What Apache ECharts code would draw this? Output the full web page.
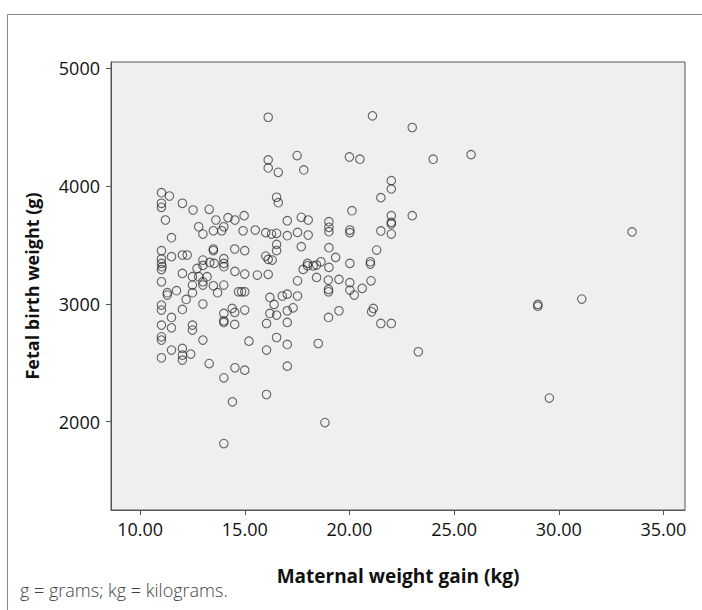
<!DOCTYPE html>
<html>
<head>
<meta charset="utf-8">
<script src="https://cdn.jsdelivr.net/npm/echarts@6/dist/echarts.min.js"></script>
<style>
html,body{margin:0;padding:0;background:#fff;}
#chart{width:702px;height:610px;}
</style>
</head>
<body>
<div id="chart"></div>
<script>
// Maternal weight gain (kg)
const gainKg = [
11.02,11.40,11.02,11.02,12.02,12.53,13.30,11.21,13.62,14.20,
14.53,14.97,12.80,13.00,13.50,13.90,14.00,14.92,11.50,13.50,
13.50,14.52,15.00,11.02,11.50,12.02,12.25,11.02,11.02,11.05,
11.02,13.00,13.33,13.54,14.00,14.00,14.00,14.53,12.02,12.72,
13.00,15.00,12.50,12.80,13.20,11.02,12.50,13.00,13.00,13.50,
14.00,11.30,11.30,11.74,12.50,13.70,14.70,14.85,15.00,12.20,
11.02,11.02,12.02,13.00,14.00,14.40,14.52,15.00,11.50,11.02,
11.50,12.50,12.50,14.00,14.00,14.52,11.02,11.02,13.00,15.20,
11.50,12.02,12.02,12.02,12.42,11.02,13.30,14.53,15.00,14.00,
14.41,14.00,16.12,16.12,16.12,17.50,17.82,16.60,20.00,20.50,
16.52,16.60,20.12,17.03,17.70,18.03,19.02,19.02,19.02,20.02,
20.02,15.50,16.00,16.28,16.52,17.03,17.52,18.03,16.52,16.52,
17.70,19.02,16.00,16.12,16.31,19.34,20.02,18.00,18.00,18.27,
18.43,18.64,17.79,19.02,15.60,16.12,17.52,18.43,18.99,19.50,
20.02,20.02,20.23,20.61,19.00,19.00,16.20,16.40,16.79,17.03,
17.52,16.20,16.52,17.03,17.31,19.00,19.50,16.04,17.03,16.52,
17.03,16.04,18.51,17.03,16.04,18.83,21.10,23.00,24.00,25.81,
22.00,22.00,21.50,22.00,22.00,22.00,22.00,23.00,21.50,21.30,
21.00,21.00,21.03,21.14,21.06,21.50,22.00,23.29,29.00,29.00,
29.55,31.10,33.50
];
// Fetal birth weight (g)
const birthG = [
3943,3915,3853,3819,3853,3796,3802,3711,3711,3731,
3711,3748,3654,3592,3620,3620,3654,3620,3561,3465,
3452,3465,3451,3451,3400,3414,3414,3380,3343,3315,
3290,3371,3351,3343,3383,3343,3315,3275,3258,3300,
3326,3252,3230,3230,3230,3187,3159,3159,3187,3153,
3159,3094,3074,3111,3094,3094,3102,3102,3102,3037,
2989,2947,2952,2998,2918,2961,2927,2947,2884,2819,
2796,2819,2777,2856,2842,2825,2720,2692,2692,2683,
2607,2621,2564,2522,2573,2542,2493,2457,2437,2372,
2168,1814,4583,4221,4153,4258,4136,4116,4246,4227,
3904,3858,3790,3705,3734,3711,3697,3649,3612,3626,
3604,3626,3604,3592,3598,3578,3606,3584,3504,3451,
3485,3476,3405,3377,3371,3394,3343,3343,3323,3323,
3329,3357,3292,3309,3244,3250,3195,3224,3201,3207,
3179,3116,3074,3131,3122,3102,3054,2995,3066,3082,
3066,2918,2904,2941,2966,2884,2941,2833,2842,2714,
2655,2607,2663,2471,2230,1992,4595,4496,4227,4266,
4045,3975,3901,3748,3691,3677,3592,3748,3618,3456,
3357,3337,3195,2961,2932,2833,2833,2593,2995,2980,
2200,3040,3610
];
const xTicks = [10, 15, 20, 25, 30, 35];
const yTicks = [2000, 3000, 4000, 5000];
const xTitle = 'Maternal weight gain (kg)';
const yTitle = 'Fetal birth weight (g)';
const footnote = 'g = grams; kg = kilograms.';

const points = gainKg.map((x, i) => [x, birthG[i]]);
const font = 'Open Sans';
const chart = echarts.init(document.getElementById('chart'), null, {renderer: 'svg'});
chart.setOption({
  animation: false,
  backgroundColor: '#ffffff',
  grid: {
    left: 111, top: 62, width: 574, height: 448,
    show: true, backgroundColor: '#efefef', borderColor: '#555', borderWidth: 1
  },
  xAxis: {
    type: 'value', min: 8.61, max: 36.03,
    name: xTitle, nameLocation: 'middle', nameGap: 56,
    nameTextStyle: {fontFamily: font, fontSize: 19, fontWeight: 'bold', color: '#111'},
    splitLine: {show: false},
    axisLine: {show: true, lineStyle: {color: '#555', width: 1}},
    axisTick: {show: true, inside: false, length: 5, customValues: xTicks, lineStyle: {color: '#555'}},
    axisLabel: {customValues: xTicks, formatter: v => v.toFixed(2), fontFamily: font, fontSize: 18, color: '#111', margin: 10}
  },
  yAxis: {
    type: 'value', min: 1250, max: 5052,
    name: yTitle, nameLocation: 'middle', nameGap: 70, nameRotate: 90,
    nameTextStyle: {fontFamily: font, fontSize: 18, fontWeight: 'bold', color: '#111'},
    splitLine: {show: false},
    axisLine: {show: true, lineStyle: {color: '#555', width: 1}},
    axisTick: {show: true, inside: false, length: 5, customValues: yTicks, lineStyle: {color: '#555'}},
    axisLabel: {customValues: yTicks, formatter: v => String(v), fontFamily: font, fontSize: 18, color: '#111', margin: 11}
  },
  graphic: [
    {type: 'rect', shape: {x: 7.5, y: 14.5, width: 720, height: 620}, style: {fill: 'none', stroke: '#888', lineWidth: 1}, silent: true},
    {type: 'text', left: 20, top: 581, style: {text: footnote, fontFamily: font, fontSize: 18, fontWeight: 300, fill: '#444'}}
  ],
  series: [{
    type: 'scatter',
    data: points,
    symbol: 'circle',
    symbolSize: 8.5,
    itemStyle: {color: 'rgba(0,0,0,0)', borderColor: 'rgba(30,30,30,0.85)', borderWidth: 1.1}
  }]
});
</script>
</body>
</html>
